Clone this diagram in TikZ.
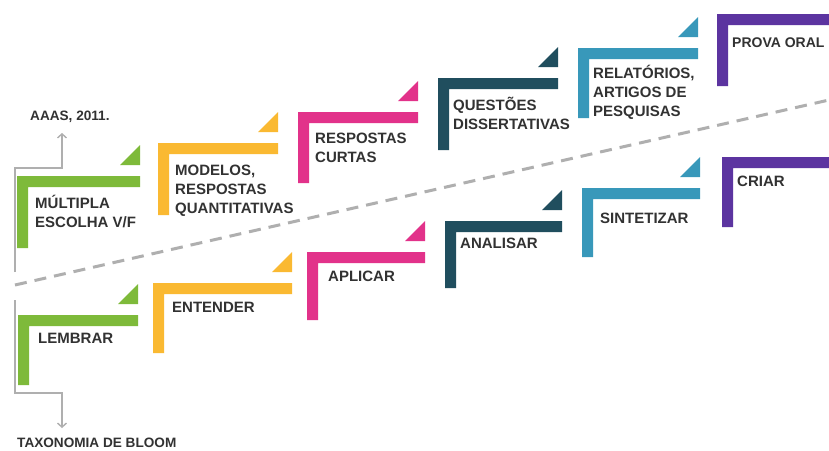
\documentclass[tikz,border=0pt]{standalone}
\usepackage{fontspec}
\setmainfont{Liberation Sans}
\usetikzlibrary{arrows.meta}

\definecolor{lvgreen}{RGB}{126,186,58}
\definecolor{lvyellow}{RGB}{250,185,50}
\definecolor{lvpink}{RGB}{226,50,138}
\definecolor{lvteal}{RGB}{32,78,94}
\definecolor{lvblue}{RGB}{56,152,186}
\definecolor{lvpurple}{RGB}{92,52,160}
\definecolor{txtgray}{RGB}{50,50,50}
\definecolor{linegray}{RGB}{175,175,175}

% corner bar of one level: colour, x, y, width, height
\newcommand{\stepbar}[5]{%
  \fill[#1] (#2,#3) -- ++(#4,0) -- ++(0,11) -- ++({11-#4},0)
    -- ++(0,{#5-11}) -- ++(-11,0) -- cycle;}
% same bar with the small triangle above its end
\newcommand{\stepbracket}[5]{%
  \stepbar{#1}{#2}{#3}{#4}{#5}
  \fill[#1] ({#2+#4},{#3-11}) -- ++(0,-20) -- ++(-20,20) -- cycle;}

\begin{document}
\begin{tikzpicture}
[x=1pt, y=-1pt,
 level/.style={anchor=base west, align=left, inner sep=0pt, text=txtgray,
   font=\fontsize{15}{19}\selectfont\bfseries},
 source/.style={anchor=base west, inner sep=0pt, text=txtgray,
   font=\fontsize{13.6}{15}\selectfont\bfseries},
 flow/.style={linegray, line width=1.4pt, -{Straight Barb[length=4pt,width=9pt]}}]
\useasboundingbox (0,0) rectangle (829,450);
\fill[white] (0,0) rectangle (829,450);

% assessment row
\stepbracket{lvgreen}{17}{176}{123}{72}
\stepbracket{lvyellow}{158}{143}{120}{72}
\stepbracket{lvpink}{298}{112}{120}{71}
\stepbracket{lvteal}{438}{78}{120}{72}
\stepbracket{lvblue}{578}{48}{120}{70}
\stepbar{lvpurple}{717}{14}{120}{72}

% multi-line labels sit on the baseline of their last line
\node (multipla) at (35,227) [level] {MÚLTIPLA\\ESCOLHA V/F};
\node (modelos) at (175,213) [level] {MODELOS,\\RESPOSTAS\\QUANTITATIVAS};
\node (respostas) at (315,162) [level] {RESPOSTAS\\CURTAS};
\node (questoes) at (453,129) [level] {QUESTÕES\\DISSERTATIVAS};
\node (relatorios) at (593,116) [level] {RELATÓRIOS,\\ARTIGOS DE\\PESQUISAS};
\node (prova) at (732,47) [level, font=\fontsize{14}{19}\selectfont\bfseries] {PROVA ORAL};

% bloom row
\stepbracket{lvgreen}{18}{315}{120}{70}
\stepbracket{lvyellow}{153}{283}{139}{70}
\stepbracket{lvpink}{307}{252}{118}{68}
\stepbracket{lvteal}{445}{221}{117}{67}
\stepbracket{lvblue}{582}{188}{118}{69}
\stepbar{lvpurple}{722}{157}{120}{70}

\node (lembrar) at (38,343) [level] {LEMBRAR};
\node (entender) at (172,312) [level] {ENTENDER};
\node (aplicar) at (328,281) [level] {APLICAR};
\node (analisar) at (460,248) [level] {ANALISAR};
\node (sintetizar) at (600,223) [level] {SINTETIZAR};
\node (criar) at (737,186) [level] {CRIAR};

% divider
\coordinate (divleft) at (15,285);
\coordinate (divright) at (829,100);
\draw[linegray, line width=3pt, dash pattern=on 12pt off 8pt] (divleft) -- (divright);

% sources
\node (aaas) at (30,120) [source] {AAAS, 2011.};
\node (bloom) at (17,447) [source] {TAXONOMIA DE BLOOM};
\coordinate (aaasfoot) at (15,272);
\coordinate (bloomfoot) at (15,300);
\draw[flow] (aaasfoot) -- ++(0,-104) -- ++(47,0) -- ++(0,-35);
\draw[flow] (bloomfoot) -- ++(0,93) -- ++(47,0) -- ++(0,35);
\end{tikzpicture}
\end{document}
